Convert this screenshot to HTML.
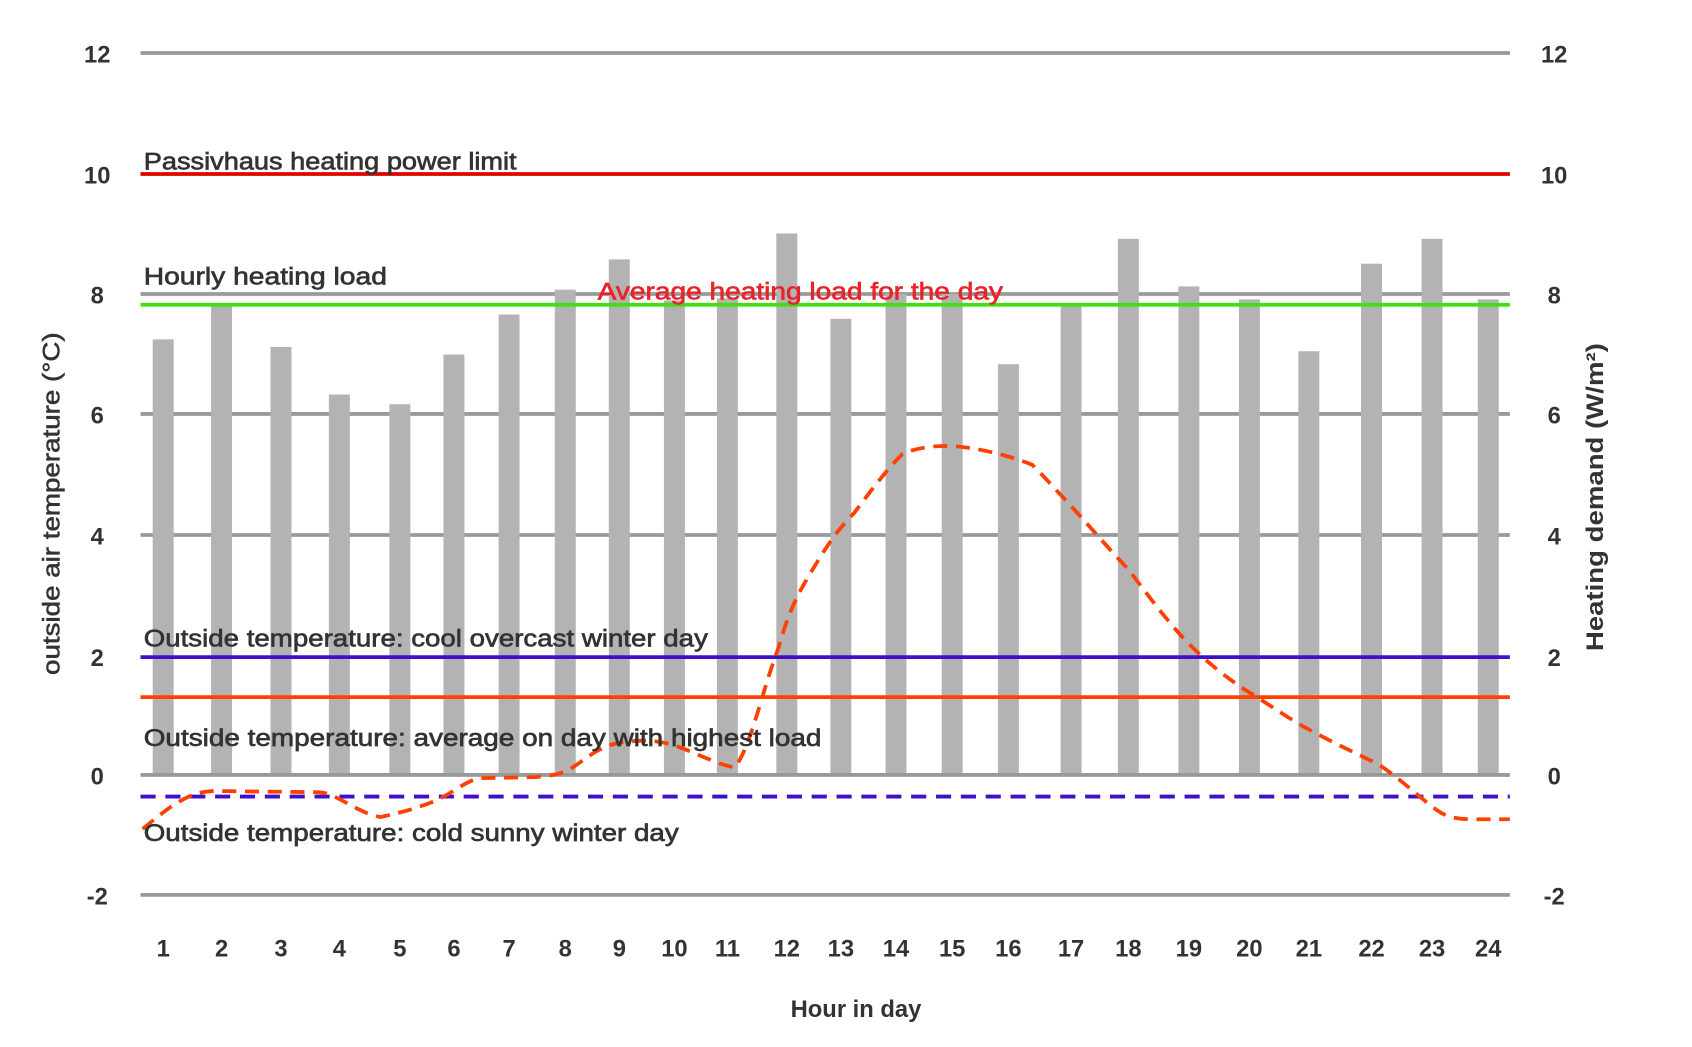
<!DOCTYPE html>
<html><head><meta charset="utf-8"><style>
html,body{margin:0;padding:0;background:#fff;}
svg{display:block;}
text{font-family:"Liberation Sans",sans-serif;fill:#333;}
</style></head><body>
<svg width="1692" height="1047" viewBox="0 0 1692 1047">
<g transform="scale(1.0808)">
<g stroke="#999" stroke-width="3.5">
<line x1="130" y1="49" x2="1397" y2="49"/>
<line x1="130" y1="272" x2="1397" y2="272"/>
<line x1="130" y1="383" x2="1397" y2="383"/>
<line x1="130" y1="495" x2="1397" y2="495"/>
<line x1="130" y1="828" x2="1397" y2="828"/>
</g>
<g fill="#b3b3b3">
<rect x="141.3" y="314" width="19.4" height="403"/>
<rect x="195.3" y="282" width="19.4" height="435"/>
<rect x="250.3" y="321" width="19.4" height="396"/>
<rect x="304.3" y="365" width="19.4" height="352"/>
<rect x="360.3" y="374" width="19.4" height="343"/>
<rect x="410.3" y="328" width="19.4" height="389"/>
<rect x="461.3" y="291" width="19.4" height="426"/>
<rect x="513.3" y="268" width="19.4" height="449"/>
<rect x="563.3" y="240" width="19.4" height="477"/>
<rect x="614.3" y="278" width="19.4" height="439"/>
<rect x="663.3" y="276" width="19.4" height="441"/>
<rect x="718.3" y="216" width="19.4" height="501"/>
<rect x="768.3" y="295" width="19.4" height="422"/>
<rect x="819.3" y="272" width="19.4" height="445"/>
<rect x="871.3" y="272" width="19.4" height="445"/>
<rect x="923.3" y="337" width="19.4" height="380"/>
<rect x="981.3" y="282" width="19.4" height="435"/>
<rect x="1034.3" y="221" width="19.4" height="496"/>
<rect x="1090.3" y="265" width="19.4" height="452"/>
<rect x="1146.3" y="277" width="19.4" height="440"/>
<rect x="1201.3" y="325" width="19.4" height="392"/>
<rect x="1259.3" y="244" width="19.4" height="473"/>
<rect x="1315.3" y="221" width="19.4" height="496"/>
<rect x="1367.3" y="277" width="19.4" height="440"/>
</g>
<line x1="130" y1="717" x2="1397" y2="717" stroke="#999" stroke-width="3.5"/>
<line x1="130" y1="161" x2="1397" y2="161" stroke="#e00000" stroke-width="3.5"/>
<line x1="130" y1="282" x2="1397" y2="282" stroke="#40e010" stroke-width="3.5"/>
<line x1="130" y1="608" x2="1397" y2="608" stroke="#4010c8" stroke-width="3.5"/>
<line x1="130" y1="645" x2="1397" y2="645" stroke="#ff4000" stroke-width="3.5"/>
<line x1="130" y1="737" x2="1397" y2="737" stroke="#4010c8" stroke-width="3.5" stroke-dasharray="14,9"/>
<path d="M132,767 C150,752 165,740 180,735 C192,731 200,732 210,732 L295,733 C310,733 330,752 352,756 C370,752 385,748 400,742 C420,734 430,722 445,720 L495,719 C510,718 520,716 530,710 C545,700 555,690 575,687 C595,684 610,685 625,690 C645,697 665,708 680,710 C695,690 705,640 720,600 C730,565 738,550 750,530 C765,505 775,490 790,475 C805,455 820,435 835,420 C850,413 870,412 885,413 C905,415 930,420 955,430 C970,445 985,462 1000,478 C1015,495 1030,512 1045,528 C1060,548 1075,568 1090,585 C1105,602 1125,620 1150,637 C1175,652 1195,667 1215,677 C1235,688 1255,697 1275,707 C1295,720 1310,735 1330,750 C1340,757 1350,758 1365,758 L1397,758" fill="none" stroke="#ff4000" stroke-width="3.5" stroke-dasharray="13,8"/>
<g font-size="22" stroke="#333" stroke-width="0.6">
<text x="133" y="157" textLength="345" lengthAdjust="spacingAndGlyphs">Passivhaus heating power limit</text>
<text x="133" y="263" textLength="225" lengthAdjust="spacingAndGlyphs">Hourly heating load</text>
<text x="553" y="277" textLength="375" lengthAdjust="spacingAndGlyphs" style="fill:#e8242a;stroke:#e8242a">Average heating load for the day</text>
<text x="133" y="598" textLength="522" lengthAdjust="spacingAndGlyphs">Outside temperature: cool overcast winter day</text>
<text x="133" y="690" textLength="627" lengthAdjust="spacingAndGlyphs">Outside temperature: average on day with highest load</text>
<text x="133" y="778" textLength="495" lengthAdjust="spacingAndGlyphs">Outside temperature: cold sunny winter day</text>
</g>
<g font-size="22" text-anchor="middle" font-weight="bold">
<text x="90" y="58">12</text><text x="90" y="170">10</text><text x="90" y="281">8</text>
<text x="90" y="392">6</text><text x="90" y="504">4</text><text x="90" y="616">2</text>
<text x="90" y="726">0</text><text x="90" y="837">-2</text>
<text x="1438" y="58">12</text><text x="1438" y="170">10</text><text x="1438" y="281">8</text>
<text x="1438" y="392">6</text><text x="1438" y="504">4</text><text x="1438" y="616">2</text>
<text x="1438" y="726">0</text><text x="1438" y="837">-2</text>
</g>
<g font-size="22" text-anchor="middle" font-weight="bold">
<text x="151" y="885">1</text><text x="205" y="885">2</text><text x="260" y="885">3</text><text x="314" y="885">4</text>
<text x="370" y="885">5</text><text x="420" y="885">6</text><text x="471" y="885">7</text><text x="523" y="885">8</text>
<text x="573" y="885">9</text><text x="624" y="885">10</text><text x="673" y="885">11</text><text x="728" y="885">12</text>
<text x="778" y="885">13</text><text x="829" y="885">14</text><text x="881" y="885">15</text><text x="933" y="885">16</text>
<text x="991" y="885">17</text><text x="1044" y="885">18</text><text x="1100" y="885">19</text><text x="1156" y="885">20</text>
<text x="1211" y="885">21</text><text x="1269" y="885">22</text><text x="1325" y="885">23</text><text x="1377" y="885">24</text>
<text x="792" y="941">Hour in day</text>
</g>
<text font-size="22" text-anchor="middle" stroke="#333" stroke-width="0.5" textLength="317" lengthAdjust="spacingAndGlyphs" transform="translate(55,466) rotate(-90)">outside air temperature (°C)</text>
<text font-size="22" text-anchor="middle" font-weight="bold" textLength="285" lengthAdjust="spacingAndGlyphs" transform="translate(1483,460) rotate(-90)">Heating demand (W/m²)</text>
</g>
</svg>
</body></html>
